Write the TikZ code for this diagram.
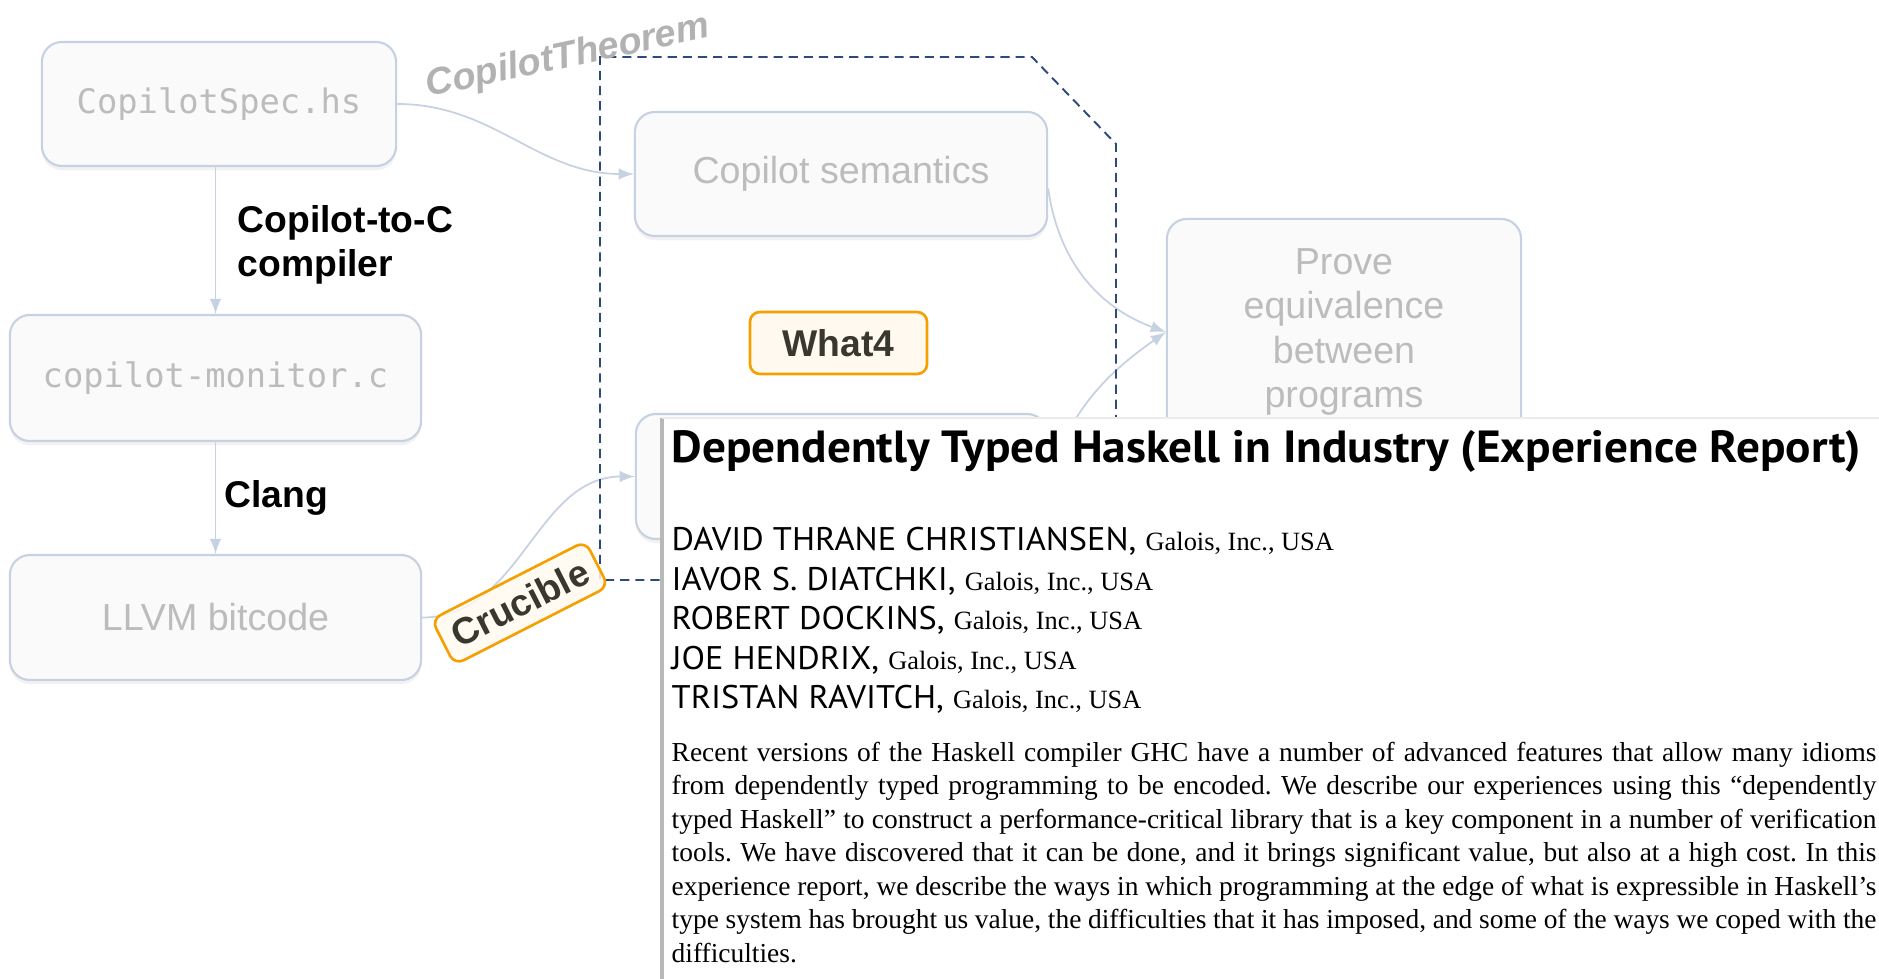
\documentclass[tikz,border=0pt]{standalone}
\usepackage{fontspec}
\setmainfont{Liberation Serif}
\setsansfont{Liberation Sans}
\setmonofont{DejaVu Sans Mono}
\newfontfamily\papersans[FakeStretch=1.05]{PT Sans}
\usepackage{tikz}
\usetikzlibrary{positioning,shadows}

\definecolor{boxline}{HTML}{C6D1E2}
\definecolor{boxfill}{HTML}{FAFAFA}
\definecolor{boxtext}{HTML}{BCBCBC}
\definecolor{tagline}{HTML}{F5A000}
\definecolor{tagfill}{HTML}{FFF9F0}
\definecolor{tagtext}{HTML}{38382F}
\definecolor{proofline}{HTML}{2C4A7C}

\begin{document}
\begin{tikzpicture}[x=0.01cm,y=0.01cm,
    stage/.style={draw=boxline,fill=boxfill,line width=0.6pt,rounded corners=0.2cm,
      text=boxtext,align=center,font=\sffamily\fontsize{10.7}{12.6}\selectfont,
      drop shadow={opacity=0.10,shadow xshift=0pt,shadow yshift=-1.2pt}},
    file/.style={stage,font=\ttfamily\fontsize{9.6}{11.5}\selectfont},
    tool/.style={draw=tagline,fill=tagfill,line width=0.75pt,rounded corners=0.1cm,
      text=tagtext,font=\sffamily\bfseries\fontsize{10.6}{12}\selectfont},
    pass/.style={inner sep=0pt,align=left,font=\sffamily\bfseries\fontsize{10.6}{12.5}\selectfont},
    flow/.style={->,>=latex,draw=boxline,line width=0.5pt},
    theorem/.style={draw=proofline,line width=0.55pt,dash pattern=on 2.6pt off 1.7pt},
    author/.style={anchor=base west,inner sep=0pt,font=\papersans\fontsize{9.3}{10}\selectfont}]

        \useasboundingbox (0,0) rectangle (1879,-979);

        \coordinate (S) at (219,-104);
        \coordinate (M) at (215.5,-378);
        \coordinate (L) at (215.5,-617.5);
        \coordinate (CS) at (841,-174);
        \coordinate (LS) at (841.5,-476.5);
        \coordinate (P) at (1344,-332);
        \coordinate (W) at (838.5,-343);
        \coordinate (C) at (520,-603);

        \node[file,minimum width=3.54cm,minimum height=1.24cm] (spec) at (S) {CopilotSpec.hs};
        \node[file,minimum width=4.11cm,minimum height=1.26cm] (monitor) at (M) {copilot-monitor.c};
        \node[stage,minimum width=4.11cm,minimum height=1.25cm] (bitcode) at (L) {LLVM bitcode};
        \node[stage,minimum width=4.12cm,minimum height=1.24cm] (sem) at (CS) {Copilot semantics};
        \node[stage,minimum width=4.11cm,minimum height=1.25cm] (llsem) at (LS) {};
        \node[stage,minimum width=3.54cm,minimum height=2.26cm] (prove) at (P) {Prove\\equivalence\\between\\programs};

        \draw[flow] (monitor.north |- spec.south) -- (monitor.north);
        \draw[flow] (monitor.south) -- (bitcode.north);
        \draw[flow] (spec.east) to[out=0,in=180] (sem.west);
        \draw[flow] (bitcode.east) to[out=0,in=180] (llsem.west);
        \draw[flow] (sem.-4) to[out=-82,in=160] (prove.west);
        \draw[flow] (llsem.east) to[out=70,in=-145] (prove.west);

        %############################################

        \coordinate (d1) at (720,-580);
        \coordinate (d2) at (600,-580);
        \coordinate (d3) at (600,-57);
        \coordinate (d4) at (1032,-57);
        \coordinate (d5) at (1116,-144);
        \coordinate (d6) at (1116,-470);
        \draw[theorem] (d1) -- (d2) -- (d3) -- (d4) -- (d5) -- (d6);

        \node[text=black!30,font=\sffamily\bfseries\itshape\fontsize{10.7}{12}\selectfont,
              rotate=12,anchor=base] (ct) at (570,-67) {CopilotTheorem};

        \node[pass,anchor=north west] (c2c) at (237,-205) {Copilot-to-C\\compiler};
        \node[pass,anchor=base west] (clang) at (224,-507) {Clang};

        \node[tool,minimum width=1.77cm,minimum height=0.62cm] (what4) at (W) {What4};
        \node[tool,rotate=27,minimum width=1.72cm,minimum height=0.48cm,
              fill opacity=0.85,text opacity=1] (crucible) at (C) {Crucible};

        %############################################

        \node[fill=white,inner sep=0pt,minimum width=12.2cm,minimum height=5.65cm,
              anchor=north west] (paper) at (662,-418) {};
        \draw[black!28,line width=0.9pt] (paper.north west) -- (paper.south west);
        \draw[black!8,line width=0.4pt] (paper.north west) -- (paper.north east);

        \node[anchor=base west,inner sep=0pt,font=\papersans\bfseries\fontsize{12.8}{15}\selectfont]
              (title) at (671,-462) {Dependently Typed Haskell in Industry (Experience Report)};

        \foreach \who/\y [count=\i] in {DAVID THRANE CHRISTIANSEN/550,IAVOR S. DIATCHKI/590,
              ROBERT DOCKINS/629,JOE HENDRIX/669,TRISTAN RAVITCH/708}
            \node[author] (author\i) at (671,-\y)
              {\who, {\rmfamily\fontsize{7.5}{9}\selectfont Galois, Inc., USA}};

        \node[anchor=base west,inner sep=0pt,text width=12.04cm,align=justify,
              font=\rmfamily\fontsize{7.8}{9.53}\selectfont] (abstract) at (671,-761)
          {\frenchspacing Recent versions of the Haskell compiler GHC have a number of advanced features that allow many idioms\linebreak
           from dependently typed programming to be encoded. We describe our experiences using this “dependently\linebreak
           typed Haskell” to construct a performance-critical library that is a key component in a number of verification\linebreak
           tools. We have discovered that it can be done, and it brings significant value, but also at a high cost. In this\linebreak
           experience report, we describe the ways in which programming at the edge of what is expressible in Haskell’s\linebreak
           type system has brought us value, the difficulties that it has imposed, and some of the ways we coped with the\linebreak
           difficulties.};
    \end{tikzpicture}
\end{document}
